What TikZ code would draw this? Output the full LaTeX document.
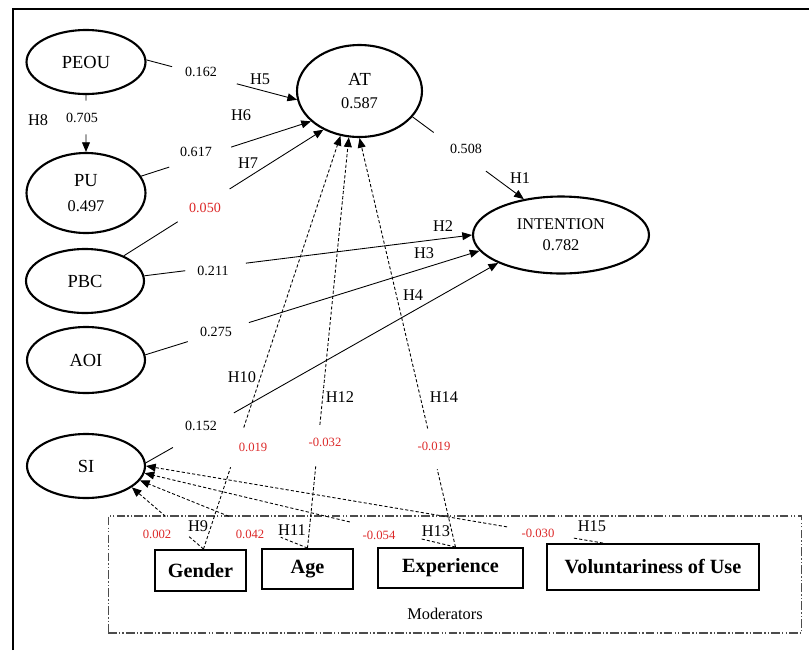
\documentclass[tikz,border=0pt]{standalone}
\usepackage{fontspec}
\setmainfont{Liberation Serif}
\usetikzlibrary{shapes,calc,arrows.meta}
\definecolor{coefred}{RGB}{220,40,40}

\begin{document}
\begin{tikzpicture}[x=0.02cm,y=-0.02cm,
    latent node/.style={ellipse,draw,line width=1.2pt,inner sep=0pt,align=center,
                        font=\fontsize{10.5}{13}\selectfont},
    mod node/.style={rectangle,draw,line width=1.1pt,inner sep=0pt,
                     font=\fontsize{11.5}{13}\selectfont\bfseries},
    hyp/.style={inner sep=0pt,font=\fontsize{9.3}{11}\selectfont},
    coef/.style={inner sep=0pt,font=\fontsize{8}{10}\selectfont},
    rcoef/.style={inner sep=0pt,text=coefred,font=\fontsize{7.2}{9}\selectfont},
    link/.style={line width=0.5pt,-{Triangle[length=5.5pt,width=4.5pt]}},
    modlink/.style={link,dash pattern=on 1.8pt off 1.2pt}
  ]
  \useasboundingbox (0,0) rectangle (809,650);
  \draw[line width=1.7pt] (13,650) -- (13,9) -- (809,9);

  % constructs
  \node[latent node,minimum width=2.38cm,minimum height=1.28cm] (peou) at (86,62) {PEOU};
  \node[latent node,minimum width=2.38cm,minimum height=1.6cm] (pu) at (86,193)
       {PU\\[1pt]{\fontsize{9.3}{11}\selectfont 0.497}};
  \node[latent node,minimum width=2.5cm,minimum height=1.84cm] (at) at (359.5,91)
       {AT\\[0pt]{\fontsize{9.3}{11}\selectfont 0.587}};
  \node[latent node,minimum width=3.52cm,minimum height=1.54cm] (int) at (561,235)
       {{\fontsize{9.3}{11}\selectfont INTENTION}\\[-1pt]{\fontsize{9.3}{11}\selectfont 0.782}};
  \node[latent node,minimum width=2.36cm,minimum height=1.28cm] (pbc) at (85,281) {PBC};
  \node[latent node,minimum width=2.36cm,minimum height=1.32cm] (aoi) at (86,360) {AOI};
  \node[latent node,minimum width=2.36cm,minimum height=1.28cm] (si) at (86,466) {SI};

  % moderators
  \node[draw,gray!60!black,line width=0.6pt,
        dash pattern=on 5pt off 1.2pt on 0.8pt off 1.2pt on 0.8pt off 1.2pt,
        minimum width=13.88cm,minimum height=2.34cm] (modbox) at (455,574.5) {};
  \node[hyp] (modlabel) at (445,614) {Moderators};
  \node[mod node,minimum width=1.82cm,minimum height=0.82cm] (gender) at (200.5,570.5) {Gender};
  \node[mod node,minimum width=1.82cm,minimum height=0.8cm] (age) at (307.5,569) {Age};
  \node[mod node,minimum width=2.9cm,minimum height=0.8cm] (exp) at (450.5,568) {Experience};
  \node[mod node,minimum width=4.24cm,minimum height=0.92cm] (vol) at (653,567) {Voluntariness of Use};
  \coordinate (gtop) at ($(gender.north)+(3,0)$);
  \coordinate (etop) at ($(exp.north)+(5,0)$);
  \coordinate (vtop) at ($(vol.north)+(-50,0)$);

  % paths, broken where the coefficients sit
  \draw[link] (peou.2) -- ($(peou.2)!.17!(at.188)$) ($(peou.2)!.60!(at.188)$) -- (at.188);
  \draw[link] (peou.south) -- ($(peou.south)!.10!(pu.north)$) ($(peou.south)!.69!(pu.north)$) -- (pu.north);
  \draw[link] (pu.17) -- ($(pu.17)!.165!(at.212)$) ($(pu.17)!.53!(at.212)$) -- (at.212);
  \draw[link] (pbc.33) -- ($(pbc.33)!.27!(at.227)$) ($(pbc.33)!.53!(at.227)$) -- (at.227);
  \draw[link] (at.334) -- ($(at.334)!.19!(int.136)$) ($(at.334)!.66!(int.136)$) -- (int.136);
  \draw[link] (pbc.5) -- ($(pbc.5)!.125!(int.180)$) ($(pbc.5)!.31!(int.180)$) -- (int.180);
  \draw[link] (aoi.5) -- ($(aoi.5)!.127!(int.191)$) ($(aoi.5)!.31!(int.191)$) -- (int.191);
  \draw[link] (si.3) -- ($(si.3)!.077!(int.204)$) ($(si.3)!.25!(int.204)$) -- (int.204);

  \draw[modlink] (gtop) -- ($(gtop)!.198!(at.247)$) ($(gtop)!.294!(at.247)$) -- (at.247);
  \draw[modlink] (age.north) -- ($(age.north)!.199!(at.257)$) ($(age.north)!.30!(at.257)$) -- (at.257);
  \draw[modlink] (etop) -- ($(etop)!.19!(at.270)$) ($(etop)!.29!(at.270)$) -- (at.270);
  \draw[modlink] (gtop) -- ($(gtop)!.20!(si.335)$) ($(gtop)!.53!(si.335)$) -- (si.335);
  \draw[modlink] (age.north) -- ($(age.north)!.16!(si.345)$) ($(age.north)!.47!(si.345)$) -- (si.345);
  \draw[modlink] (etop) -- ($(etop)!.11!(si.353)$) ($(etop)!.34!(si.353)$) -- (si.353);
  \draw[modlink] (vtop) -- ($(vtop)!.068!(si.0)$) ($(vtop)!.21!(si.0)$) -- (si.0);

  % coefficients and hypotheses
  \node[coef] (c5) at (201,72) {0.162};
  \node[hyp] (h5) at (260,79) {H5};
  \node[coef] (c8) at (82,118) {0.705};
  \node[hyp] (h8) at (38,120) {H8};
  \node[coef] (c6) at (196,152) {0.617};
  \node[hyp] (h6) at (241,115) {H6};
  \node[rcoef,font=\fontsize{8}{10}\selectfont] (c7) at (205,208) {0.050};
  \node[hyp] (h7) at (248,163) {H7};
  \node[coef] (c1) at (466,149) {0.508};
  \node[hyp] (h1) at (520,178) {H1};
  \node[coef] (c2) at (213,271) {0.211};
  \node[hyp] (h2) at (443,226) {H2};
  \node[coef] (c3) at (216,332) {0.275};
  \node[hyp] (h3) at (424,253) {H3};
  \node[coef] (c4) at (201,426) {0.152};
  \node[hyp] (h4) at (413,295) {H4};
  \node[hyp] (h10) at (242,377) {H10};
  \node[rcoef] (c10) at (253,447) {0.019};
  \node[hyp] (h12) at (340,397) {H12};
  \node[rcoef] (c12) at (325,442) {-0.032};
  \node[hyp] (h14) at (444,397) {H14};
  \node[rcoef] (c14) at (434,446) {-0.019};
  \node[rcoef] (c9) at (157,534) {0.002};
  \node[hyp] (h9) at (198,526) {H9};
  \node[rcoef] (c11) at (250,534) {0.042};
  \node[hyp] (h11) at (292,530) {H11};
  \node[rcoef] (c13) at (379,535) {-0.054};
  \node[hyp] (h13) at (436,531) {H13};
  \node[rcoef] (c15) at (538,533) {-0.030};
  \node[hyp] (h15) at (592,526) {H15};
\end{tikzpicture}
\end{document}
